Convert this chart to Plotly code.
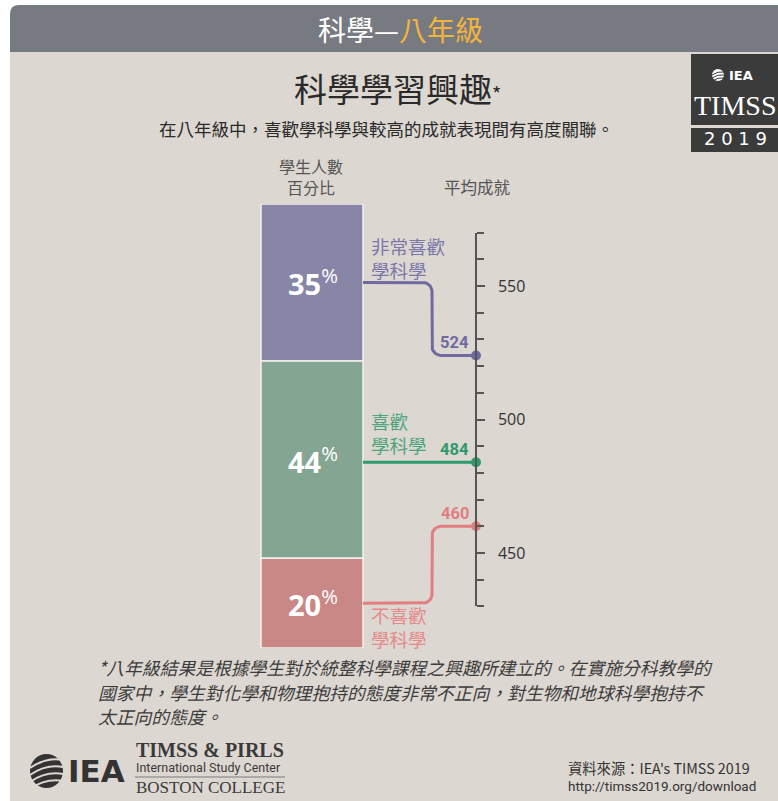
import numpy as np
import plotly.graph_objects as go

# ---------------- data ----------------
categories = ["非常喜歡<br>學科學", "喜歡<br>學科學", "不喜歡<br>學科學"]
percents = [35, 44, 20]
scores = [524, 484, 460]
score_ticks = list(range(430, 571, 10))
score_label_vals = [450, 500, 550]

# ---------------- style ----------------
W, H = 778, 801
BG = "#dcd7d1"
bar_colors = ["#8886a7", "#84a592", "#c98785"]
line_colors = ["#6f6ba0", "#2e9a6b", "#e27e80"]
label_colors = ["#7b78aa", "#4ea57c", "#e48a8b"]
CJK = "Noto Sans CJK TC"

BAR_X, BAR_W = 312, 102
BEND_X, AXIS_X = 432, 476
R_PX = 9

PCT_DOM = [1 - 648 / H, 1 - 204 / H]
PCT_RANGE = [sum(percents), 0]
SC_DOM = [1 - 606.4 / H, 1 - 232.6 / H]
SC_RANGE = [430, 570]


def P(y):
    return 1 - y / H


def to_px(v, rng, dom):
    frac = (v - rng[0]) / (rng[1] - rng[0])
    return H * (1 - (dom[0] + frac * (dom[1] - dom[0])))


def px_to_score(px):
    paper = 1 - px / H
    frac = (paper - SC_DOM[0]) / (SC_DOM[1] - SC_DOM[0])
    return SC_RANGE[0] + frac * (SC_RANGE[1] - SC_RANGE[0])


score_per_px = (SC_RANGE[1] - SC_RANGE[0]) / ((SC_DOM[1] - SC_DOM[0]) * H)

fig = go.Figure()

# stacked bar
bases = np.concatenate([[0], np.cumsum(percents)[:-1]])
for i, (c, p, b) in enumerate(zip(categories, percents, bases)):
    fig.add_trace(go.Bar(
        x=[BAR_X], y=[p], base=[b], width=[BAR_W],
        marker=dict(color=bar_colors[i], line=dict(color="#f4f1ec", width=1.5)),
        xaxis="x", yaxis="y", showlegend=False, hoverinfo="skip"))

# connectors
for i, (p, b, s) in enumerate(zip(percents, bases, scores)):
    mid = b + p / 2
    s0 = px_to_score(to_px(mid, PCT_RANGE, PCT_DOM))
    s1 = s
    rs = R_PX * score_per_px
    x0 = BAR_X + BAR_W / 2
    if abs(s1 - s0) < 2 * rs:
        xs = [x0, AXIS_X]
        ys = [s1, s1]
    else:
        d = np.sign(s1 - s0)
        t = np.linspace(0, np.pi / 2, 12)
        c1x = (BEND_X - R_PX) + R_PX * np.sin(t)
        c1y = (s0 + d * rs) - d * rs * np.cos(t)
        c2x = (BEND_X + R_PX) - R_PX * np.cos(t)
        c2y = (s1 - d * rs) + d * rs * np.sin(t)
        xs = [x0] + list(c1x) + list(c2x) + [AXIS_X]
        ys = [s0] + list(c1y) + list(c2y) + [s1]
    fig.add_trace(go.Scatter(
        x=xs, y=ys, mode="lines", line=dict(color=line_colors[i], width=3),
        xaxis="x", yaxis="y2", showlegend=False, hoverinfo="skip"))
    fig.add_trace(go.Scatter(
        x=[AXIS_X], y=[s1], mode="markers",
        marker=dict(color=line_colors[i], size=10),
        xaxis="x", yaxis="y2", showlegend=False, hoverinfo="skip", cliponaxis=False))

ann = []
shapes = []


def text(x, y, t, size, color, family=CJK, xanchor="center", align="left"):
    ann.append(dict(x=x, y=P(y), xref="x", yref="paper", xanchor=xanchor, yanchor="middle",
                    text=t, showarrow=False, align=align,
                    font=dict(family=family, size=size, color=color)))


# percent labels
for i, (p, b) in enumerate(zip(percents, bases)):
    ann.append(dict(x=BAR_X + 1, y=b + p / 2, xref="x", yref="y", yanchor="middle",
                    text=f"<b>{p}</b><sup>%</sup>",
                    showarrow=False, font=dict(family="Open Sans", size=29, color="white")))

# score labels
for i, s in enumerate(scores):
    ann.append(dict(x=AXIS_X - 5, y=s, xref="x", yref="y2", xanchor="right", yanchor="middle",
                    yshift=13, text=f"<b>{s}</b>", showarrow=False,
                    font=dict(family="Roboto", size=16.5, color=line_colors[i])))

# category labels (two lines each)
cat_y = [257.5, 432.5, 626.5]
for i, c in enumerate(categories):
    text(369, cat_y[i], c, 18.5, label_colors[i], xanchor="left")

# column headers
text(311, 176.5, "學生人數<br>百分比", 16, "#555", align="center")
text(477, 187, "平均成就", 16.5, "#555", align="center")

# background & header band
shapes.append(dict(type="rect", xref="x", yref="paper", x0=10, x1=W, y0=0, y1=P(40),
                   fillcolor=BG, line=dict(width=0), layer="below"))
shapes.append(dict(type="path", xref="x", yref="paper",
                   path=f"M 10,{P(52)} L 10,{P(14)} Q 10,{P(5)} 19,{P(5)} L {W},{P(5)} L {W},{P(52)} Z",
                   fillcolor="#777a80", line=dict(width=0), layer="below"))
text(400, 29, "<span style='color:white'>科學—</span><span style='color:#f2b43d'>八年級</span>",
     28, "white", align="center")

# title & subtitle
text(397, 88, "科學學習興趣<span style='font-size:20px'>*</span>", 33, "#2a2a2a", align="center")
text(386, 129, "在八年級中，喜歡學科學與較高的成就表現間有高度關聯。", 17.5, "#2a2a2a", align="center")

# TIMSS logo box
shapes.append(dict(type="rect", xref="x", yref="paper", x0=691, x1=W, y0=P(125), y1=P(54),
                   fillcolor="#3b3b3b", line=dict(width=0)))
shapes.append(dict(type="rect", xref="x", yref="paper", x0=691, x1=W, y0=P(152), y1=P(128),
                   fillcolor="#3b3b3b", line=dict(width=0)))
shapes.append(dict(type="circle", xref="x", yref="paper", x0=712, x1=724, y0=P(81), y1=P(69),
                   fillcolor="white", line=dict(width=0)))
for k in range(3):
    yy = 72 + k * 3
    shapes.append(dict(type="path", xref="x", yref="paper",
                       path=f"M 712,{P(yy + 3)} Q 718,{P(yy - 1)} 724,{P(yy)}",
                       line=dict(color="#3b3b3b", width=1)))
text(727, 75, "<b>IEA</b>", 13, "white", family="DejaVu Sans", xanchor="left")
text(692, 106, "TIMSS", 28, "white", family="Liberation Serif", xanchor="left")
text(735, 139, "2 0 1 9", 18, "white", family="DejaVu Sans", align="center")

# footnote
foot = ["*八年級結果是根據學生對於統整科學課程之興趣所建立的。在實施分科教學的",
        "國家中，學生對化學和物理抱持的態度非常不正向，對生物和地球科學抱持不",
        "太正向的態度。"]
for k, line in enumerate(foot):
    text(96, 667 + k * 24.5, f"<i>{line}</i>", 17.8, "#3c3c3c", xanchor="left")

# bottom-left logo
shapes.append(dict(type="circle", xref="x", yref="paper", x0=30, x1=63, y0=P(788), y1=P(754),
                   fillcolor="#333", line=dict(width=0)))
for k in range(4):
    yy = 760 + k * 7
    shapes.append(dict(type="path", xref="x", yref="paper",
                       path=f"M 30,{P(yy + 8)} Q 46,{P(yy - 3)} 63,{P(yy)}",
                       line=dict(color=BG, width=2)))
text(66, 771, "<b>IEA</b>", 31, "#333", family="DejaVu Sans", xanchor="left")
text(134, 750, "<b>TIMSS &amp; PIRLS</b>", 20, "#3a3a3a", family="Liberation Serif", xanchor="left")
text(134, 767, "International Study Center", 12.5, "#3a3a3a", family="Roboto", xanchor="left")
shapes.append(dict(type="line", xref="x", yref="paper", x0=135, x1=285, y0=P(777), y1=P(777),
                   line=dict(color="#9a9a9a", width=1.5)))
text(134, 787, "BOSTON COLLEGE", 17, "#3a3a3a", family="Liberation Serif", xanchor="left")

# source
text(566, 767, "資料來源：IEA's TIMSS 2019", 14.3, "#333", xanchor="left")
text(566, 786, "http://timss2019.org/download", 13.5, "#333", family="Roboto", xanchor="left")

fig.update_layout(
    width=W, height=H, margin=dict(l=0, r=0, t=0, b=0),
    paper_bgcolor="white", plot_bgcolor="rgba(0,0,0,0)",
    barmode="overlay",
    xaxis=dict(range=[0, W], domain=[0, 1], visible=False, fixedrange=True),
    yaxis=dict(range=PCT_RANGE, domain=PCT_DOM, visible=False, fixedrange=True),
    yaxis2=dict(range=SC_RANGE, domain=SC_DOM, anchor="free", position=AXIS_X / W, side="right",
                showline=True, linecolor="#555", linewidth=1.5,
                ticks="outside", ticklen=8, tickwidth=1.5, tickcolor="#555",
                tickvals=score_label_vals, ticktext=[str(v) for v in score_label_vals],
                minor=dict(tickvals=score_ticks, ticks="outside", ticklen=7, tickwidth=1.5,
                           tickcolor="#555", showgrid=False),
                ticklabelstandoff=10,
                tickfont=dict(family="Open Sans", size=16, color="#333"),
                showgrid=False, zeroline=False, fixedrange=True),
    annotations=ann, shapes=shapes,
)

fig.write_html("out.html", config={"displayModeBar": False},
               post_script="document.body.style.margin='0';")
